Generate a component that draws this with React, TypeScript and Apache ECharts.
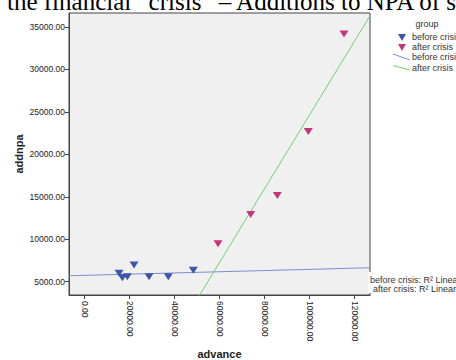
import React, { useEffect, useRef } from "react";
import * as echarts from "echarts";

const beforeAdvance = [15244, 16711, 18933, 21911, 28578, 37156, 48267];
const beforeAddnpa = [5990, 5472, 5590, 6969, 5590, 5590, 6344];
const afterAdvance = [59244, 73778, 85600, 99378, 115244];
const afterAddnpa = [9481, 12901, 15142, 22689, 34175];
const xTicks = [0, 20000, 40000, 60000, 80000, 100000, 120000];
const yTicks = [5000, 10000, 15000, 20000, 25000, 30000, 35000];
const xRange = [-7000, 126800];
const yRange = [3430, 36650];

const BLUE = "#3d55aa";
const RED = "#c5357a";
const BLUE_LINE = "#7a8ed6";
const GREEN_LINE = "#6cd46c";

function fit(xs: number[], ys: number[]) {
  const n = xs.length;
  const mx = xs.reduce((a, b) => a + b, 0) / n;
  const my = ys.reduce((a, b) => a + b, 0) / n;
  let sxy = 0, sxx = 0;
  for (let i = 0; i < n; i++) {
    sxy += (xs[i] - mx) * (ys[i] - my);
    sxx += (xs[i] - mx) * (xs[i] - mx);
  }
  const b = sxy / sxx;
  const a = my - b * mx;
  return xRange.map((x) => [x, a + b * x]);
}

export default function App() {
  const ref = useRef<HTMLDivElement>(null);
  useEffect(() => {
    document.body.style.margin = "0";
    const chart = echarts.init(ref.current!, null, { renderer: "svg" });
    const labelFont = "Liberation Sans, Arial, sans-serif";
    chart.setOption({
      animation: false,
      backgroundColor: "#ffffff",
      grid: {
        left: 69,
        top: 13,
        width: 301,
        height: 282,
        containLabel: false,
        outerBoundsMode: "none",
        show: true,
        backgroundColor: "#f0f0f0",
        borderColor: "#444",
        borderWidth: 1,
      },
      xAxis: {
        type: "value",
        min: xRange[0],
        max: xRange[1],
        name: "advance",
        nameLocation: "middle",
        nameGap: 53,
        nameMoveOverlap: false,
        nameTextStyle: { fontFamily: labelFont, fontSize: 11, fontWeight: "bold", color: "#222" },
        axisLine: { show: true, onZero: false, lineStyle: { color: "#444" } },
        axisTick: { show: true, customValues: xTicks, length: 4, lineStyle: { color: "#444" } },
        axisLabel: {
          customValues: xTicks,
          rotate: -90,
          margin: 6,
          fontFamily: labelFont,
          fontSize: 8.5,
          color: "#222",
          formatter: (v: number) => v.toFixed(2),
        },
        splitLine: { show: false },
      },
      yAxis: {
        type: "value",
        min: yRange[0],
        max: yRange[1],
        name: "addnpa",
        nameLocation: "middle",
        nameGap: 45,
        nameMoveOverlap: false,
        nameTextStyle: { fontFamily: labelFont, fontSize: 11, fontWeight: "bold", color: "#222" },
        axisLine: { show: true, onZero: false, lineStyle: { color: "#444" } },
        axisTick: { show: true, customValues: yTicks, length: 4, lineStyle: { color: "#444" } },
        axisLabel: {
          customValues: yTicks,
          margin: 4,
          fontFamily: labelFont,
          fontSize: 8.5,
          color: "#222",
          formatter: (v: number) => v.toFixed(2),
        },
        splitLine: { show: false },
      },
      series: [
        {
          type: "line",
          name: "before crisis fit",
          data: fit(beforeAdvance, beforeAddnpa),
          showSymbol: false,
          lineStyle: { color: BLUE_LINE, width: 1 },
          z: 2,
        },
        {
          type: "line",
          name: "after crisis fit",
          data: fit(afterAdvance, afterAddnpa),
          showSymbol: false,
          lineStyle: { color: GREEN_LINE, width: 1 },
          z: 2,
        },
        {
          type: "scatter",
          name: "before crisis",
          data: beforeAdvance.map((x, i) => [x, beforeAddnpa[i]]),
          symbol: "triangle",
          symbolRotate: 180,
          symbolSize: [9, 7],
          itemStyle: { color: BLUE, opacity: 1 },
          z: 3,
        },
        {
          type: "scatter",
          name: "after crisis",
          data: afterAdvance.map((x, i) => [x, afterAddnpa[i]]),
          symbol: "triangle",
          symbolRotate: 180,
          symbolSize: [9, 7],
          itemStyle: { color: RED, opacity: 1 },
          z: 3,
        },
      ],
      graphic: [
        {
          type: "text",
          x: 7,
          y: 1.6,
          style: {
            text: "the financial \u201ccrisis\u201d \u2013 Additions to NPA of s",
            fontFamily: "Liberation Serif, Times New Roman, serif",
            fontSize: 25,
            fill: "#000",
            verticalAlign: "middle",
          },
        },
        {
          type: "text",
          x: 427,
          y: 24,
          style: { text: "group", fontFamily: labelFont, fontSize: 9, fill: "#333", align: "center", verticalAlign: "middle" },
        },
        { type: "polygon", shape: { points: [[398, 34], [406, 34], [402, 41]] }, style: { fill: BLUE } },
        { type: "polygon", shape: { points: [[398, 44], [406, 44], [402, 51]] }, style: { fill: RED } },
        { type: "line", shape: { x1: 393, y1: 54, x2: 410, y2: 60 }, style: { stroke: BLUE_LINE, lineWidth: 1 } },
        { type: "line", shape: { x1: 393, y1: 65.5, x2: 410, y2: 70 }, style: { stroke: GREEN_LINE, lineWidth: 1 } },
        { type: "text", x: 412, y: 37.3, style: { text: "before crisis", fontFamily: labelFont, fontSize: 9, fill: "#333", verticalAlign: "middle" } },
        { type: "text", x: 412, y: 47.3, style: { text: "after crisis", fontFamily: labelFont, fontSize: 9, fill: "#333", verticalAlign: "middle" } },
        { type: "text", x: 412, y: 57.3, style: { text: "before crisis", fontFamily: labelFont, fontSize: 9, fill: "#333", verticalAlign: "middle" } },
        { type: "text", x: 412, y: 67.7, style: { text: "after crisis", fontFamily: labelFont, fontSize: 9, fill: "#333", verticalAlign: "middle" } },
        { type: "rect", z: 100, shape: { x: 368, y: 272, width: 88, height: 21 }, style: { fill: "#ffffff" } },
        { type: "text", z: 101, x: 370, y: 279.5, style: { text: "before crisis: R\u00b2 Linear = 0.053", fontFamily: labelFont, fontSize: 9, fill: "#333", verticalAlign: "middle" } },
        { type: "text", z: 101, x: 373, y: 288.5, style: { text: "after crisis: R\u00b2 Linear = 0.925", fontFamily: labelFont, fontSize: 9, fill: "#333", verticalAlign: "middle" } },
      ],
    });
    return () => chart.dispose();
  }, []);
  return <div ref={ref} style={{ width: 456, height: 360 }} />;
}
